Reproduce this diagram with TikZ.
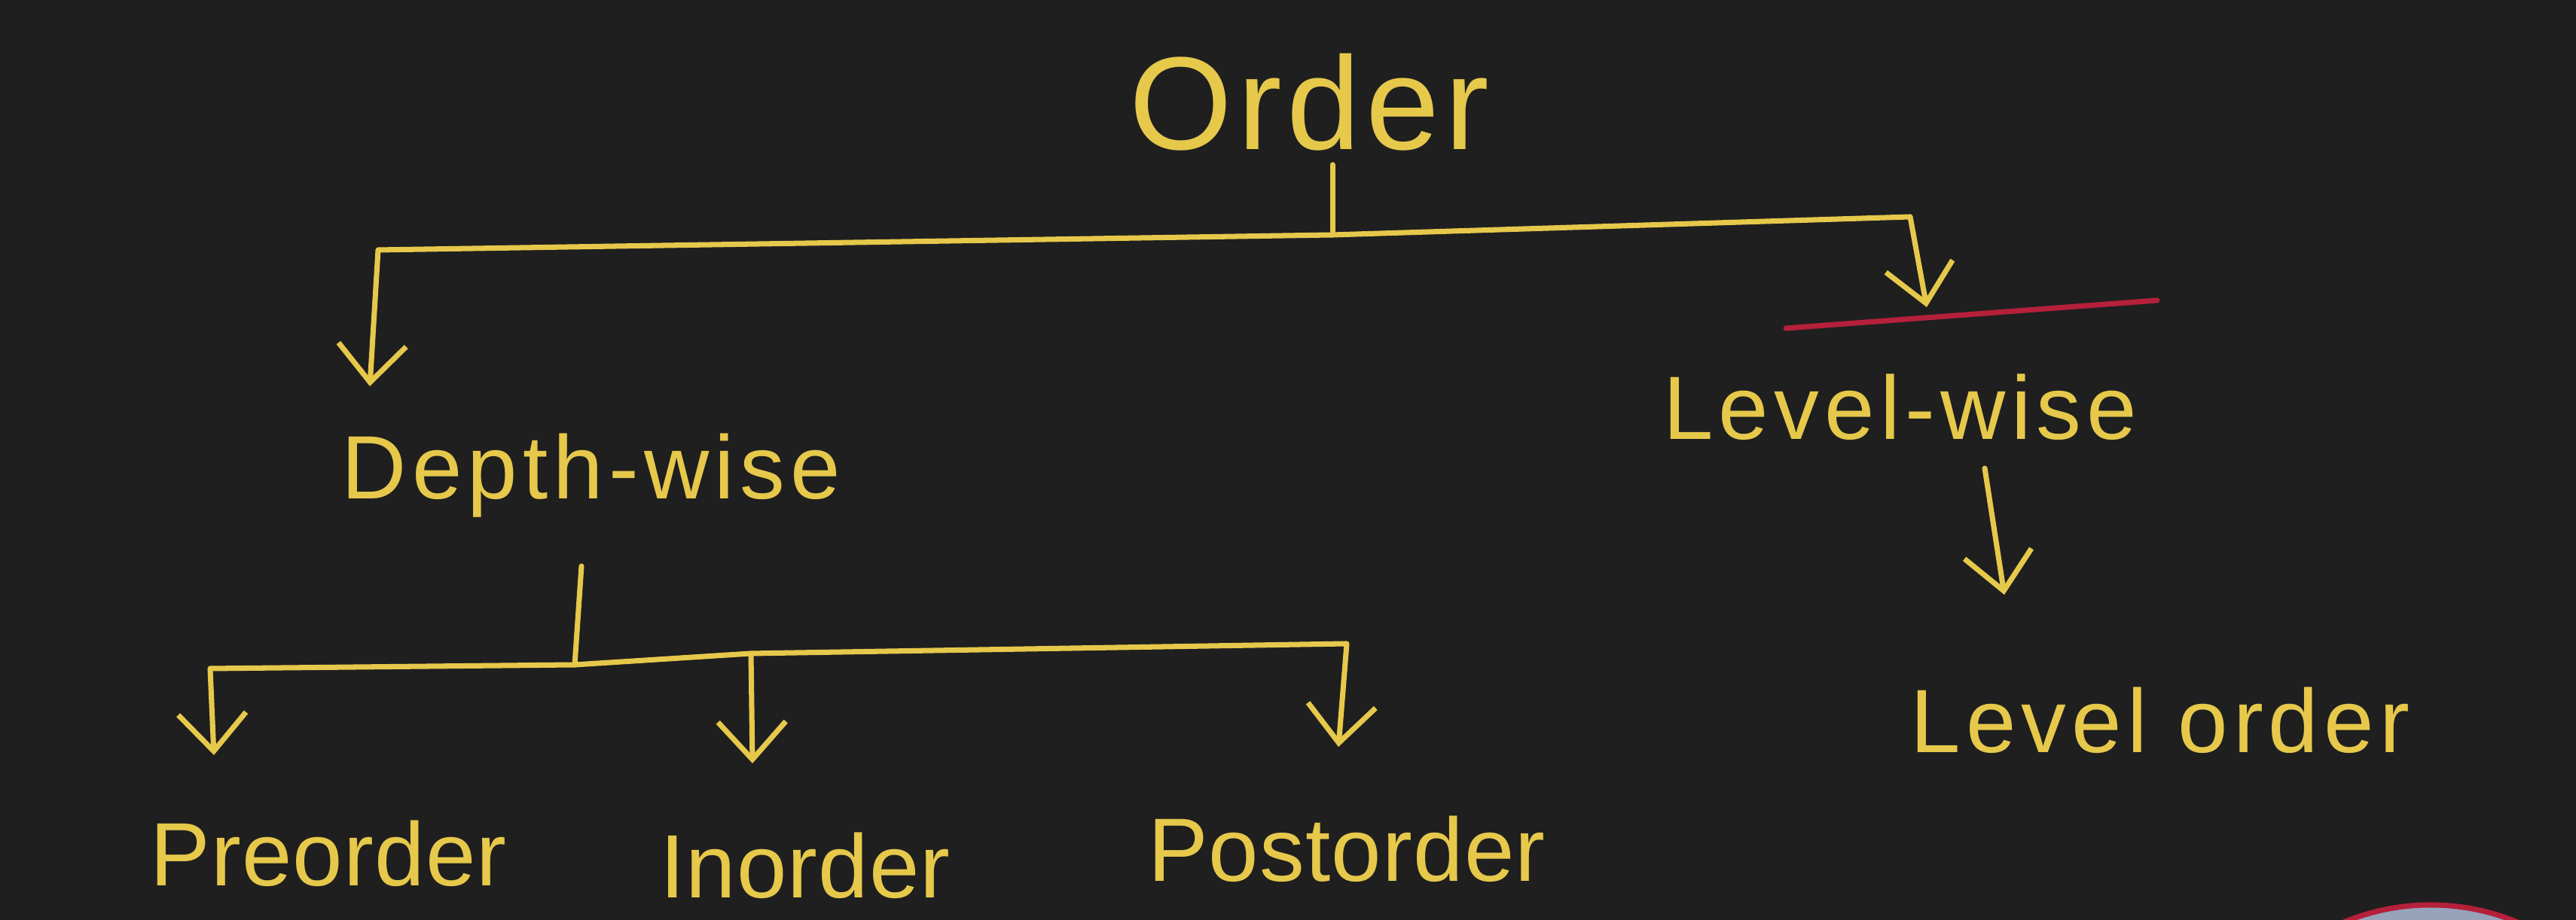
\documentclass[tikz,border=0pt]{standalone}
\usepackage{fontspec}
\setmainfont{Liberation Sans}
\usetikzlibrary{arrows.meta, calc}
\definecolor{board}{HTML}{1F1F1F}
\definecolor{chalk}{HTML}{E6C84B}
\definecolor{redpen}{HTML}{B5203A}
\definecolor{camblue}{HTML}{97A3BA}
\tikzset{
  lbl/.style={text=chalk, inner sep=2pt, font=\fontsize{34}{40}\selectfont\addfontfeatures{LetterSpace=6}},
  leaf/.style={text=chalk, inner sep=2pt, font=\fontsize{34}{40}\selectfont\addfontfeatures{LetterSpace=1}},
  title/.style={text=chalk, inner sep=5pt, font=\fontsize{50}{58}\selectfont\addfontfeatures{LetterSpace=4}},
  wire/.style={draw=chalk, line width=2pt, line join=round, line cap=round},
  arr/.style={wire, -{Straight Barb[length=5mm, width=9mm, line width=2pt]}},
  strike/.style={draw=redpen, line width=2pt, line cap=round},
}

\begin{document}
\begin{tikzpicture}
    \clip (0,0) rectangle (34.2,12.22);
    \fill[board] (0,0) rectangle (34.2,12.22);
    % top level
    \node[title] (order) at (17.38,10.86) {Order};
    \node[lbl] (depth) at (7.85,5.90) {Depth-wise};
    \node[lbl] (level) at (25.23,6.81) {Level-wise};
    \node[lbl] (levord) at (28.68,2.65) {Level order};
    % traversals
    \node[leaf] (pre) at (4.36,0.88) {Preorder};
    \node[leaf] (in) at (10.69,0.72) {Inorder};
    \node[leaf] (post) at (17.88,0.94) {Postorder};
    % bends and tips
    \coordinate (j1) at (17.69,9.10);
    \coordinate (cl) at (5.02,8.90);
    \coordinate (cr) at (25.36,9.34);
    \coordinate (tdepth) at (4.91,7.09);
    \coordinate (tlevel) at (25.58,8.14);
    \coordinate (lw1) at (26.35,6.00);
    \coordinate (lw2) at (26.61,4.32);
    \coordinate (ds) at (7.72,4.70);
    \coordinate (j2) at (7.63,3.39);
    \coordinate (bl) at (2.79,3.34);
    \coordinate (bm) at (9.97,3.54);
    \coordinate (br) at (17.88,3.67);
    \coordinate (tpre) at (2.84,2.19);
    \coordinate (tin) at (9.99,2.08);
    \coordinate (tpost) at (17.77,2.30);
    \draw[wire] (order.south -| j1) -- (j1);
    \draw[arr] (j1) -- (cl) -- (tdepth);
    \draw[arr] (j1) -- (cr) -- (tlevel);
    \draw[strike] (23.71,7.86) -- (28.64,8.23);
    \draw[arr] (lw1) -- (lw2);
    \draw[wire] (ds) -- (j2);
    \draw[arr] (j2) -- (bl) -- (tpre);
    \draw[arr] (j2) -- (bm) -- (br) -- (tpost);
    \draw[arr] (bm) -- (tin);
    % camera bubble at the corner
    \filldraw[fill=camblue, draw=redpen, line width=2pt] (32.27,-2.80) circle (3.0);
\end{tikzpicture}
\end{document}
